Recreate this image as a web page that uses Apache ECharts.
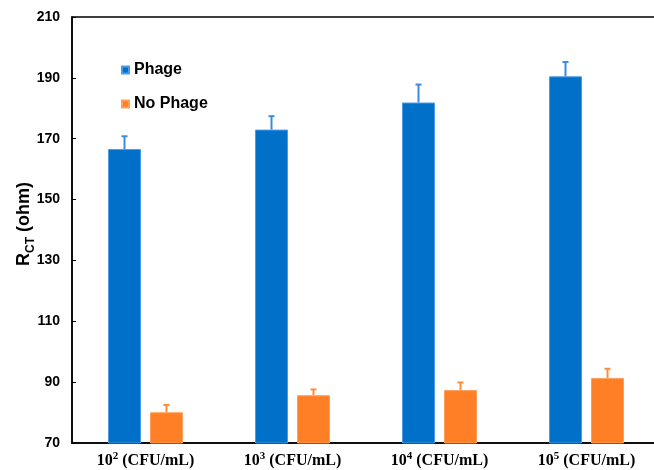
<!DOCTYPE html>
<html>
<head>
<meta charset="utf-8">
<script src="https://cdn.jsdelivr.net/npm/echarts@6/dist/echarts.min.js"></script>
<style>
  html, body { margin: 0; padding: 0; background: #fff; }
  #chart { width: 654px; height: 470px; }
</style>
</head>
<body>
<div id="chart"></div>
<script>
// Bacterial concentrations (exponent of 10) shown on the x axis
const exponents = ['2', '3', '4', '5'];
const categories = exponents.map(e => '10^' + e + ' (CFU/mL)');

// Charge-transfer resistance, ohm
const phage = [166.6, 173.0, 181.9, 190.5];
const phageErr = [4.2, 4.4, 5.9, 4.7];
const noPhage = [80.1, 85.7, 87.4, 91.4];
const noPhageErr = [2.4, 1.9, 2.5, 3.0];

// y axis range
const yMin = 70, yMax = 210, yStep = 20;

const BLUE = '#0070C8';
const ORANGE = '#FF7F27';
const BAR_W = 33;
const BAR_GAP = 9;
const HALF_SPAN = (BAR_W + BAR_GAP) / 2;

function errorSeries(values, errs, color, offset) {
  return {
    type: 'custom',
    z: 5,
    silent: true,
    data: values.map((v, i) => [i, v, v + errs[i]]),
    renderItem: function (params, api) {
      const base = api.coord([api.value(0), api.value(1)]);
      const top = api.coord([api.value(0), api.value(2)]);
      const x = base[0] + offset;
      const cap = 3;
      const style = { stroke: color, lineWidth: 2 };
      return {
        type: 'group',
        children: [
          { type: 'line', shape: { x1: x, y1: base[1], x2: x, y2: top[1] }, style: style },
          { type: 'line', shape: { x1: x - cap, y1: top[1], x2: x + cap, y2: top[1] }, style: style }
        ]
      };
    }
  };
}

const chart = echarts.init(document.getElementById('chart'), null, { renderer: 'canvas' });

chart.setOption({
  animation: false,
  backgroundColor: '#fff',
  grid: {
    left: 72, top: 17, width: 588, height: 426,
    outerBoundsMode: 'none',
    containLabel: false,
    show: true, borderColor: '#000', borderWidth: 1.5, backgroundColor: 'transparent'
  },
  legend: {
    orient: 'vertical',
    left: 121, top: 62,
    padding: 0,
    itemWidth: 7, itemHeight: 7, itemGap: 18,
    icon: 'rect',
    data: ['Phage', 'No Phage'],
    textStyle: { fontFamily: 'Liberation Sans, Arial', fontWeight: 'bold', fontSize: 16, color: '#000' }
  },
  xAxis: {
    type: 'category',
    data: categories,
    axisLine: { lineStyle: { color: '#000', width: 1.5 } },
    axisTick: { show: false },
    axisLabel: {
      interval: 0,
      margin: 8,
      formatter: function (v) {
        const m = v.match(/^10\^(\d+)(.*)$/);
        return '{b|10}{s|' + m[1] + '}{b|' + m[2] + '}';
      },
      rich: {
        b: { fontFamily: 'Liberation Serif, Times New Roman', fontWeight: 'bold', fontSize: 16, color: '#000', lineHeight: 18, verticalAlign: 'bottom' },
        s: { fontFamily: 'Liberation Serif, Times New Roman', fontWeight: 'bold', fontSize: 11, color: '#000', lineHeight: 18, verticalAlign: 'top' }
      }
    }
  },
  yAxis: {
    type: 'value',
    min: yMin, max: yMax, interval: yStep,
    name: '{r|R}{s|CT}{r| (ohm)}',
    nameLocation: 'middle',
    nameGap: 35,
    nameMoveOverlap: false,
    nameTextStyle: {
      padding: [0, 0, 0, 12],
      rich: {
        r: { fontFamily: 'Liberation Sans, Arial', fontWeight: 'bold', fontSize: 18, color: '#000', lineHeight: 22, verticalAlign: 'top' },
        s: { fontFamily: 'Liberation Sans, Arial', fontWeight: 'bold', fontSize: 12, color: '#000', lineHeight: 22, verticalAlign: 'bottom' }
      }
    },
    axisLine: { show: true, lineStyle: { color: '#000', width: 1.5 } },
    axisTick: { show: true, inside: true, length: 4, lineStyle: { color: '#000', width: 1 } },
    splitLine: { show: false },
    axisLabel: {
      margin: 12,
      fontFamily: 'Liberation Sans, Arial', fontWeight: 'bold', fontSize: 14, color: '#000'
    }
  },
  series: [
    {
      name: 'Phage', type: 'bar', data: phage,
      barWidth: BAR_W, barGap: (BAR_GAP / BAR_W * 100) + '%',
      itemStyle: { color: BLUE, borderColor: '#4C9BE6', borderWidth: 1 }
    },
    {
      name: 'No Phage', type: 'bar', data: noPhage,
      barWidth: BAR_W,
      itemStyle: { color: ORANGE, borderColor: '#FF9E5A', borderWidth: 1 }
    },
    errorSeries(phage, phageErr, '#3A8BE0', -HALF_SPAN),
    errorSeries(noPhage, noPhageErr, '#FF8C3A', HALF_SPAN)
  ]
});
</script>
</body>
</html>
